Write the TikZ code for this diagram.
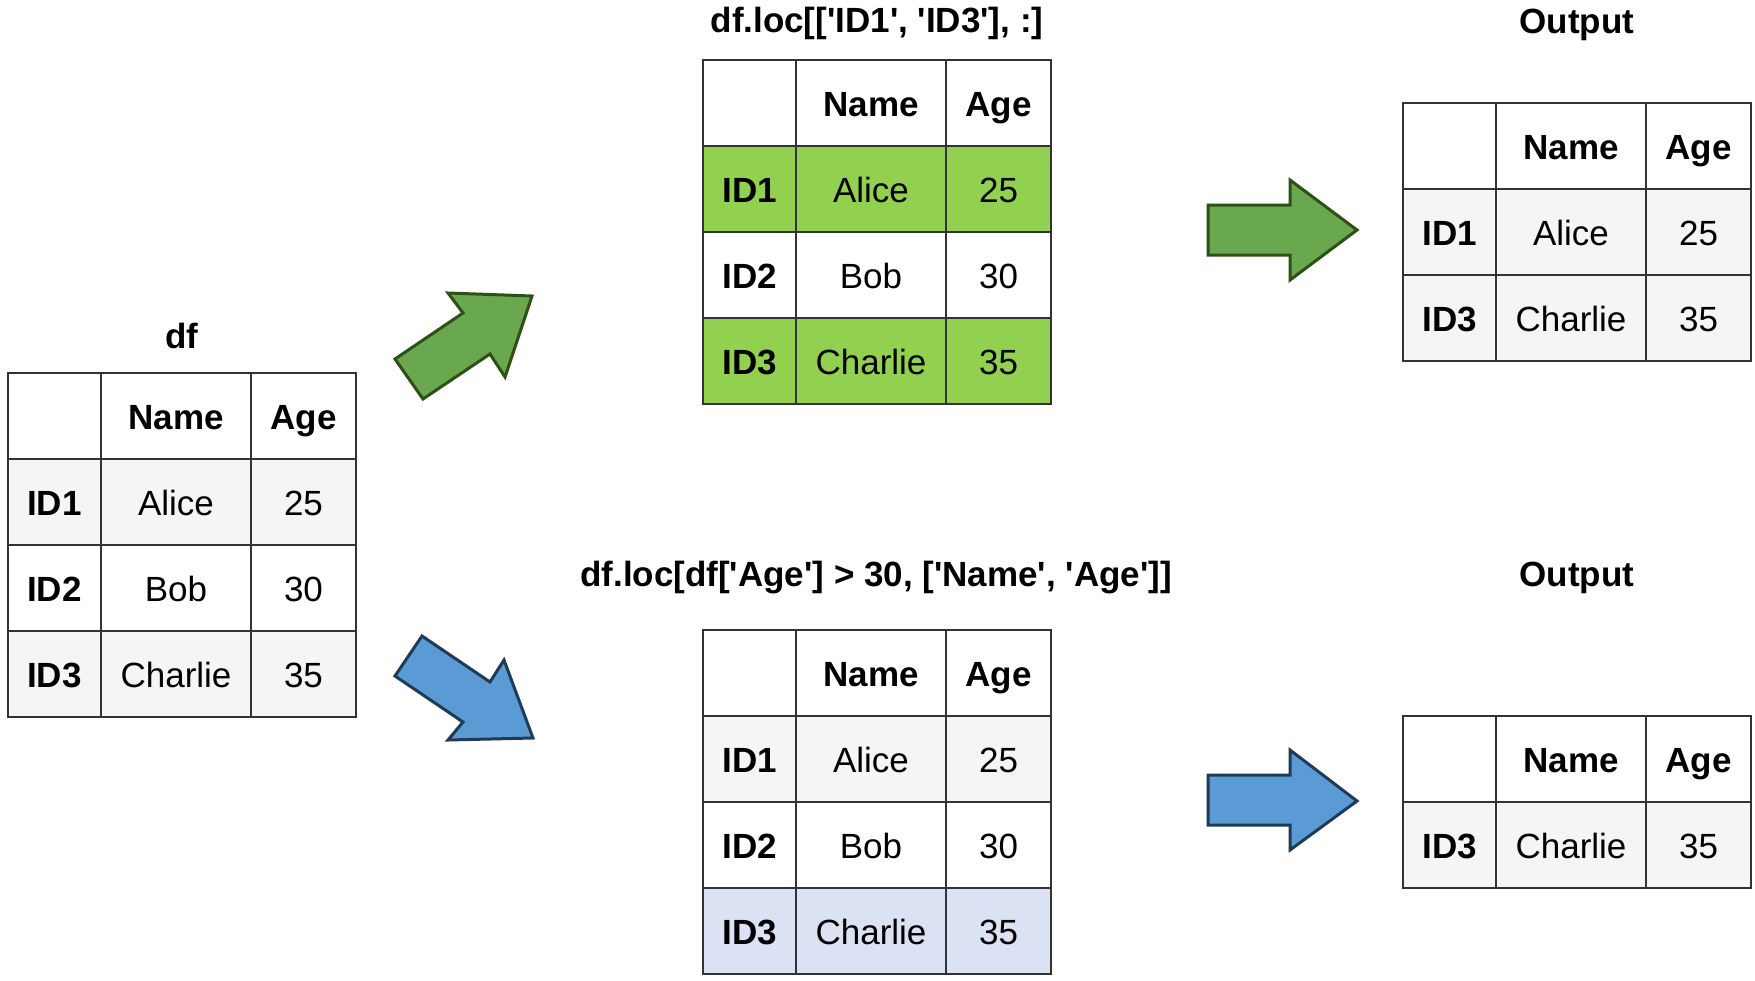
\documentclass[tikz,border=0pt]{standalone}
\usepackage{fontspec}
\setmainfont{Liberation Sans}[Ligatures=TeXOff]
\definecolor{gridc}{HTML}{333333}
\definecolor{rowgray}{HTML}{F5F5F5}
\definecolor{rowgreen}{HTML}{92D050}
\definecolor{rowblue}{HTML}{DAE2F3}
\definecolor{grfill}{HTML}{6AA84F}
\definecolor{grline}{HTML}{2D5016}
\definecolor{blfill}{HTML}{5B9BD5}
\definecolor{blline}{HTML}{1F3B57}
\tikzset{
  cell/.style={draw=gridc, line width=1pt, minimum height=43pt, inner sep=0pt,
    text height=13.5pt, text depth=0pt, anchor=center, font=\fontsize{17.5}{21}\selectfont},
  boldcell/.style={font=\fontsize{17.5}{21}\selectfont\bfseries},
  ca/.style={cell, minimum width=46.5pt, boldcell},
  cb/.style={cell, minimum width=75pt},
  cc/.style={cell, minimum width=52.5pt},
  titletext/.style={anchor=base, inner sep=0pt, font=\fontsize{17.5}{21}\selectfont\bfseries},
  garrow/.style={fill=grfill, draw=grline, line width=1.5pt, line join=miter},
  barrow/.style={fill=blfill, draw=blline, line width=1.5pt, line join=miter}
}
\newcommand{\dftable}[4]{%
  \node[ca, fill=white] (#1-0-1) at (#2+46.5,#3+43) {};
  \node[cb, fill=white, boldcell] (#1-0-2) at (#2+168,#3+43) {Name};
  \node[cc, fill=white, boldcell] (#1-0-3) at (#2+295.5,#3+43) {Age};
  \foreach \vf/\vid/\vname/\vage [count=\vr] in {#4} {
    \node[ca, fill=\vf] (#1-\vr-1) at (#2+46.5,#3+43+86*\vr) {\vid};
    \node[cb, fill=\vf] (#1-\vr-2) at (#2+168,#3+43+86*\vr) {\vname};
    \node[cc, fill=\vf] (#1-\vr-3) at (#2+295.5,#3+43+86*\vr) {\vage};
  }%
}
\begin{document}
\begin{tikzpicture}[x=0.5pt,y=-0.5pt]
\useasboundingbox[fill=white] (0,0) rectangle (1755,980);

% titles
\node[titletext] (tdf) at (182,348) {df};
\node[titletext] (tq1) at (877,32) {df.loc[['ID1', 'ID3'], :]};
\node[titletext] (to1) at (1577,33) {Output};
\node[titletext] (tq2) at (876,586) {df.loc[df['Age'] > 30, ['Name', 'Age']]};
\node[titletext] (to2) at (1577,586) {Output};

% tables
\dftable{df}{8}{373}{rowgray/ID1/Alice/25, white/ID2/Bob/30, rowgray/ID3/Charlie/35}
\dftable{qa}{703}{60}{rowgreen/ID1/Alice/25, white/ID2/Bob/30, rowgreen/ID3/Charlie/35}
\dftable{qb}{703}{630}{rowgray/ID1/Alice/25, white/ID2/Bob/30, rowblue/ID3/Charlie/35}
\dftable{oa}{1403}{103}{rowgray/ID1/Alice/25, rowgray/ID3/Charlie/35}
\dftable{ob}{1403}{716}{rowgray/ID3/Charlie/35}

% block arrows
\draw[garrow] (395,359) -- (463,313) -- (448,293) -- (532,296) -- (505,377) -- (490,354) -- (423,399) -- cycle;
\draw[barrow] (422,636) -- (490,682) -- (504,660) -- (533,738) -- (448,740) -- (463,722) -- (395,676) -- cycle;
\draw[garrow] (1208,205) -- (1290,205) -- (1290,180) -- (1357,230) -- (1290,280) -- (1290,255) -- (1208,255) -- cycle;
\draw[barrow] (1208,775) -- (1290,775) -- (1290,750) -- (1357,801) -- (1290,850) -- (1290,825) -- (1208,825) -- cycle;
\end{tikzpicture}
\end{document}
